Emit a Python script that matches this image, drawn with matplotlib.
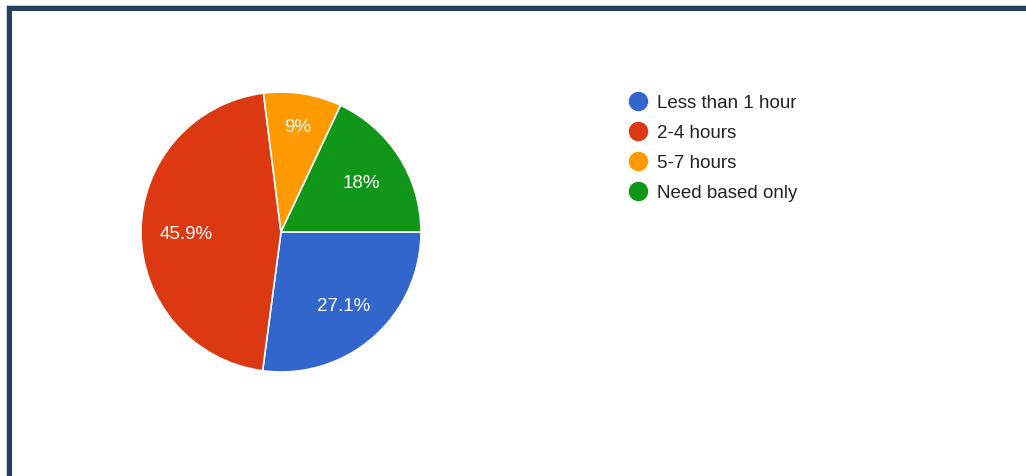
import numpy as np
import matplotlib.pyplot as plt
from matplotlib.lines import Line2D
from matplotlib.patches import Rectangle

# Survey answers and their shares (percent)
labels = ["Less than 1 hour", "2-4 hours", "5-7 hours", "Need based only"]
shares = [27.1, 45.9, 9.0, 18.0]
colors = ["#3366cc", "#dc3912", "#ff9900", "#109618"]

plt.rcParams["font.family"] = ["Liberation Sans", "DejaVu Sans"]

W, H = 1026, 477
fig = plt.figure(figsize=(W / 100, H / 100), dpi=100)
fig.patch.set_facecolor("white")

# Pie sits in a square area, left part of the card
ax = fig.add_axes([141 / W, (H - 373) / H, 280 / W, 280 / H])
wedges, texts, autotexts = ax.pie(
    shares,
    colors=colors,
    startangle=0,
    counterclock=False,
    autopct=lambda p: f"{p:.1f}%".replace(".0%", "%"),
    pctdistance=0.68,
    wedgeprops=dict(edgecolor="white", linewidth=1.2),
    textprops=dict(color="white", fontsize=13.5),
)
# small slice gets its label pushed a bit further out
w = wedges[2]
mid = np.deg2rad((w.theta1 + w.theta2) / 2)
autotexts[2].set_position((0.78 * np.cos(mid), 0.78 * np.sin(mid)))
for t in autotexts:
    t.set_verticalalignment("center_baseline")

ax.set_xlim(-1.0, 1.0)
ax.set_ylim(-1.0, 1.0)
ax.set_aspect("equal")

# Legend with round markers
handles = [
    Line2D([], [], marker="o", linestyle="none", markersize=13,
           markerfacecolor=c, markeredgecolor=c)
    for c in colors
]
fig.legend(
    handles,
    labels,
    loc="upper left",
    bbox_to_anchor=(628.6 / W, (H - 95) / H),
    frameon=False,
    fontsize=13.5,
    labelcolor="#222222",
    handlelength=1.0,
    handletextpad=0.5,
    labelspacing=0.69,
    borderaxespad=0,
    borderpad=0,
)

# Dark card border along the top and left edges
fig.patches.append(Rectangle((6 / W, 0), 1 / W, (H - 6) / H, transform=fig.transFigure,
                             facecolor="#c9ced6", edgecolor="none"))
fig.patches.append(Rectangle((6 / W, (H - 7) / H), (W - 6) / W, 1 / H, transform=fig.transFigure,
                             facecolor="#c9ced6", edgecolor="none"))
fig.patches.append(Rectangle((7 / W, 0), 5 / W, (H - 7) / H, transform=fig.transFigure,
                             facecolor="#253f5f", edgecolor="none"))
fig.patches.append(Rectangle((7 / W, (H - 12) / H), (W - 7) / W, 5 / H, transform=fig.transFigure,
                             facecolor="#253f5f", edgecolor="none"))

fig.savefig("out.png", dpi=100)
